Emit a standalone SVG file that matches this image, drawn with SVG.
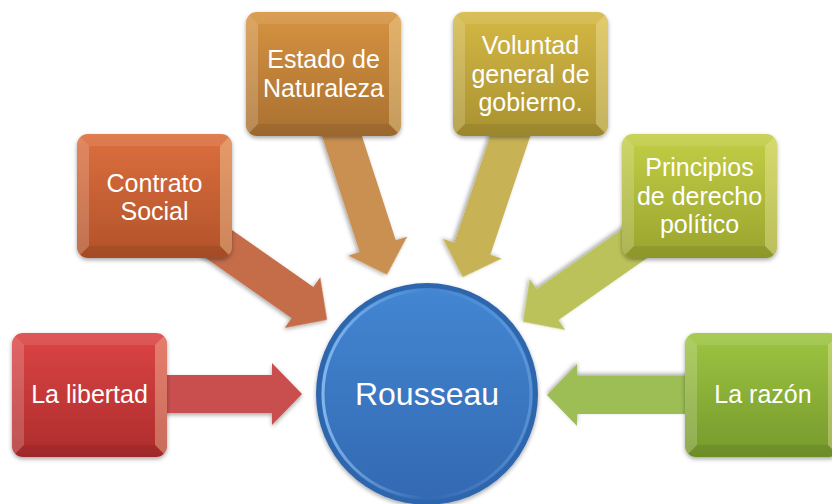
<svg xmlns="http://www.w3.org/2000/svg" width="832" height="504" viewBox="0 0 832 504">
<style>
.t{font-family:"Liberation Sans",Arial,sans-serif;font-size:25px;fill:#ffffff;text-anchor:middle}
.big{font-size:32px}
.arr{filter:url(#sh)}
</style>
<defs>
<filter id="sh" x="-20%" y="-20%" width="140%" height="140%">
<feDropShadow dx="0" dy="2" stdDeviation="2" flood-color="#000" flood-opacity="0.35"/>
</filter>
<clipPath id="bc"><rect x="0" y="0" width="155" height="124" rx="11"/></clipPath>
<g id="bevel" clip-path="url(#bc)">
<polygon points="0,0 155,0 143,12 12,12" fill="#fff" fill-opacity="0.1"/>
<polygon points="0,0 12,12 12,112 0,124" fill="#fff" fill-opacity="0.18"/>
<polygon points="155,0 155,124 143,112 143,12" fill="#fff6c0" fill-opacity="0.32"/>
<polygon points="0,124 155,124 143,112 12,112" fill="#000" fill-opacity="0.08"/>
</g>
<linearGradient id="g1" x1="0" y1="0" x2="0" y2="1"><stop offset="0" stop-color="#dc4545"/><stop offset="1" stop-color="#ae2c2c"/></linearGradient>
<linearGradient id="g2" x1="0" y1="0" x2="0" y2="1"><stop offset="0" stop-color="#dc6f3e"/><stop offset="1" stop-color="#b2522a"/></linearGradient>
<linearGradient id="g3" x1="0" y1="0" x2="0" y2="1"><stop offset="0" stop-color="#d69341"/><stop offset="1" stop-color="#a97030"/></linearGradient>
<linearGradient id="g4" x1="0" y1="0" x2="0" y2="1"><stop offset="0" stop-color="#d5b845"/><stop offset="1" stop-color="#a89230"/></linearGradient>
<linearGradient id="g5" x1="0" y1="0" x2="0" y2="1"><stop offset="0" stop-color="#c3ce46"/><stop offset="1" stop-color="#9aa42e"/></linearGradient>
<linearGradient id="g6" x1="0" y1="0" x2="0" y2="1"><stop offset="0" stop-color="#9ec542"/><stop offset="1" stop-color="#76992c"/></linearGradient>
<linearGradient id="cg" x1="0" y1="0" x2="0" y2="1"><stop offset="0" stop-color="#4386d2"/><stop offset="1" stop-color="#3369b2"/></linearGradient>
<linearGradient id="hl" x1="0" y1="0" x2="1" y2="0"><stop offset="0" stop-color="#9fd0ff" stop-opacity="0.7"/><stop offset="0.5" stop-color="#9fd0ff" stop-opacity="0"/><stop offset="1" stop-color="#9fd0ff" stop-opacity="0.3"/></linearGradient>
</defs>

<g id="connectors">
<path class="arr" fill="#c9504f" transform="translate(150,394)" d="M0,-19 H122 V-31 L152,0 L122,31 V19 H0Z"/>
<path class="arr" fill="#c56c4a" transform="translate(196,228) rotate(35)" d="M0,-19 H130 V-31 L160,0 L130,31 V19 H0Z"/>
<path class="arr" fill="#c99051" transform="translate(334.5,113) rotate(72)" d="M0,-19 H140 V-31 L170,0 L140,31 V19 H0Z"/>
<path class="arr" fill="#c7b255" transform="translate(517,116) rotate(108.6)" d="M0,-19 H140 V-31 L170,0 L140,31 V19 H0Z"/>
<path class="arr" fill="#bcc25a" transform="translate(654,230) rotate(145)" d="M0,-19 H130 V-31 L160,0 L130,31 V19 H0Z"/>
<path class="arr" fill="#9dbd55" transform="translate(700,395) rotate(180)" d="M0,-19 H123 V-31 L153,0 L123,31 V19 H0Z"/>
</g>

<g id="n-libertad" transform="translate(12,333)">
<rect width="155" height="124" rx="11" fill="url(#g1)" filter="url(#sh)"/>
<use href="#bevel"/>
<text class="t" x="77.5" y="70">La libertad</text>
</g>
<g id="n-contrato" transform="translate(77,134)">
<rect width="155" height="124" rx="11" fill="url(#g2)" filter="url(#sh)"/>
<use href="#bevel"/>
<text class="t" x="77.5" y="58">Contrato</text>
<text class="t" x="77.5" y="86">Social</text>
</g>
<g id="n-estado" transform="translate(246,12)">
<rect width="155" height="124" rx="11" fill="url(#g3)" filter="url(#sh)"/>
<use href="#bevel"/>
<text class="t" x="77.5" y="56">Estado de</text>
<text class="t" x="77.5" y="85">Naturaleza</text>
</g>
<g id="n-voluntad" transform="translate(453,12)">
<rect width="155" height="124" rx="11" fill="url(#g4)" filter="url(#sh)"/>
<use href="#bevel"/>
<text class="t" x="77.5" y="42">Voluntad</text>
<text class="t" x="77.5" y="70.5">general de</text>
<text class="t" x="77.5" y="99">gobierno.</text>
</g>
<g id="n-principios" transform="translate(622,134)">
<rect width="155" height="124" rx="11" fill="url(#g5)" filter="url(#sh)"/>
<use href="#bevel"/>
<text class="t" x="77.5" y="42">Principios</text>
<text class="t" x="77.5" y="70.5">de derecho</text>
<text class="t" x="77.5" y="99">político</text>
</g>
<g id="n-razon" transform="translate(685,333)">
<rect width="155" height="124" rx="11" fill="url(#g6)" filter="url(#sh)"/>
<use href="#bevel"/>
<text class="t" x="78" y="70">La razón</text>
</g>

<g id="n-rousseau">
<circle cx="427" cy="394" r="111" fill="#2f66ad" filter="url(#sh)"/>
<circle cx="427" cy="394" r="106" fill="url(#cg)"/>
<circle cx="427" cy="394" r="104" fill="none" stroke="url(#hl)" stroke-width="3"/>
<text class="t big" x="427" y="405">Rousseau</text>
</g>
</svg>
